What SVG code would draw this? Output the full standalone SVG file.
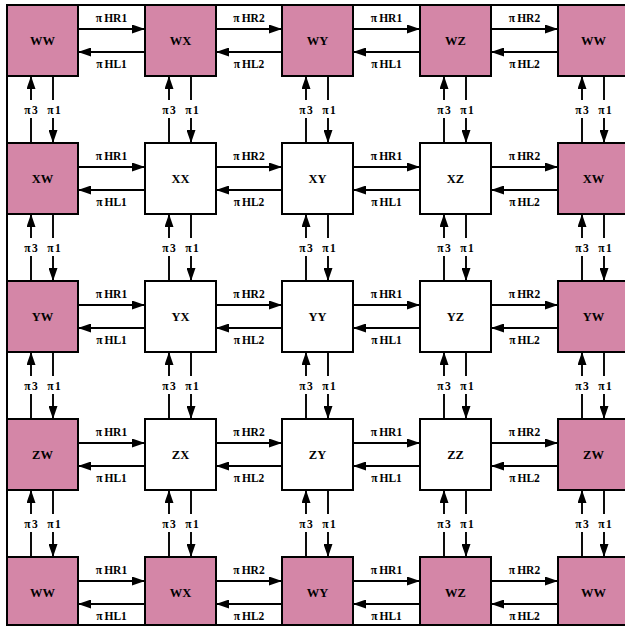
<svg xmlns="http://www.w3.org/2000/svg" width="625" height="628" viewBox="0 0 625 628">
<style>
.node rect{stroke:#000;stroke-width:2}
.pink rect{fill:#d486a7}
.plain rect{fill:#fff}
.node text{font-family:"Liberation Serif",serif;font-weight:bold;font-size:12.5px;text-anchor:middle;fill:#000}
.el{font-family:"Liberation Serif",serif;font-weight:bold;font-size:11.5px;text-anchor:middle;fill:#000}
.ar{stroke:#000;stroke-width:1.9;marker-end:url(#ah)}
.mk{fill:#fff}
.frame{fill:none;stroke:#000;stroke-width:2}
</style>
<defs>
<marker id="ah" viewBox="0 0 13 9" refX="13" refY="4.5" markerWidth="13" markerHeight="9" markerUnits="userSpaceOnUse" orient="auto"><path d="M0,0 L13,4.5 L0,9 z" fill="#000"/></marker>
</defs>
<rect x="0" y="0" width="625" height="628" fill="#fff"/>
<g id="connectors">
<line class="ar" x1="78" y1="29" x2="145" y2="29"/><line class="ar" x1="145" y1="52" x2="78" y2="52"/>
<line class="ar" x1="216" y1="29" x2="282" y2="29"/><line class="ar" x1="282" y1="52" x2="216" y2="52"/>
<line class="ar" x1="353" y1="29" x2="420" y2="29"/><line class="ar" x1="420" y1="52" x2="353" y2="52"/>
<line class="ar" x1="491" y1="29" x2="558" y2="29"/><line class="ar" x1="558" y1="52" x2="491" y2="52"/>
<line class="ar" x1="78" y1="167" x2="145" y2="167"/><line class="ar" x1="145" y1="190" x2="78" y2="190"/>
<line class="ar" x1="216" y1="167" x2="282" y2="167"/><line class="ar" x1="282" y1="190" x2="216" y2="190"/>
<line class="ar" x1="353" y1="167" x2="420" y2="167"/><line class="ar" x1="420" y1="190" x2="353" y2="190"/>
<line class="ar" x1="491" y1="167" x2="558" y2="167"/><line class="ar" x1="558" y1="190" x2="491" y2="190"/>
<line class="ar" x1="78" y1="305" x2="145" y2="305"/><line class="ar" x1="145" y1="328" x2="78" y2="328"/>
<line class="ar" x1="216" y1="305" x2="282" y2="305"/><line class="ar" x1="282" y1="328" x2="216" y2="328"/>
<line class="ar" x1="353" y1="305" x2="420" y2="305"/><line class="ar" x1="420" y1="328" x2="353" y2="328"/>
<line class="ar" x1="491" y1="305" x2="558" y2="305"/><line class="ar" x1="558" y1="328" x2="491" y2="328"/>
<line class="ar" x1="78" y1="443" x2="145" y2="443"/><line class="ar" x1="145" y1="466" x2="78" y2="466"/>
<line class="ar" x1="216" y1="443" x2="282" y2="443"/><line class="ar" x1="282" y1="466" x2="216" y2="466"/>
<line class="ar" x1="353" y1="443" x2="420" y2="443"/><line class="ar" x1="420" y1="466" x2="353" y2="466"/>
<line class="ar" x1="491" y1="443" x2="558" y2="443"/><line class="ar" x1="558" y1="466" x2="491" y2="466"/>
<line class="ar" x1="78" y1="581" x2="145" y2="581"/><line class="ar" x1="145" y1="604" x2="78" y2="604"/>
<line class="ar" x1="216" y1="581" x2="282" y2="581"/><line class="ar" x1="282" y1="604" x2="216" y2="604"/>
<line class="ar" x1="353" y1="581" x2="420" y2="581"/><line class="ar" x1="420" y1="604" x2="353" y2="604"/>
<line class="ar" x1="491" y1="581" x2="558" y2="581"/><line class="ar" x1="558" y1="604" x2="491" y2="604"/>
<line class="ar" x1="31" y1="143" x2="31" y2="76"/><line class="ar" x1="53" y1="76" x2="53" y2="143"/>
<line class="ar" x1="169" y1="143" x2="169" y2="76"/><line class="ar" x1="191" y1="76" x2="191" y2="143"/>
<line class="ar" x1="306" y1="143" x2="306" y2="76"/><line class="ar" x1="328" y1="76" x2="328" y2="143"/>
<line class="ar" x1="444" y1="143" x2="444" y2="76"/><line class="ar" x1="466" y1="76" x2="466" y2="143"/>
<line class="ar" x1="582" y1="143" x2="582" y2="76"/><line class="ar" x1="604" y1="76" x2="604" y2="143"/>
<line class="ar" x1="31" y1="281" x2="31" y2="214"/><line class="ar" x1="53" y1="214" x2="53" y2="281"/>
<line class="ar" x1="169" y1="281" x2="169" y2="214"/><line class="ar" x1="191" y1="214" x2="191" y2="281"/>
<line class="ar" x1="306" y1="281" x2="306" y2="214"/><line class="ar" x1="328" y1="214" x2="328" y2="281"/>
<line class="ar" x1="444" y1="281" x2="444" y2="214"/><line class="ar" x1="466" y1="214" x2="466" y2="281"/>
<line class="ar" x1="582" y1="281" x2="582" y2="214"/><line class="ar" x1="604" y1="214" x2="604" y2="281"/>
<line class="ar" x1="31" y1="419" x2="31" y2="352"/><line class="ar" x1="53" y1="352" x2="53" y2="419"/>
<line class="ar" x1="169" y1="419" x2="169" y2="352"/><line class="ar" x1="191" y1="352" x2="191" y2="419"/>
<line class="ar" x1="306" y1="419" x2="306" y2="352"/><line class="ar" x1="328" y1="352" x2="328" y2="419"/>
<line class="ar" x1="444" y1="419" x2="444" y2="352"/><line class="ar" x1="466" y1="352" x2="466" y2="419"/>
<line class="ar" x1="582" y1="419" x2="582" y2="352"/><line class="ar" x1="604" y1="352" x2="604" y2="419"/>
<line class="ar" x1="31" y1="557" x2="31" y2="490"/><line class="ar" x1="53" y1="490" x2="53" y2="557"/>
<line class="ar" x1="169" y1="557" x2="169" y2="490"/><line class="ar" x1="191" y1="490" x2="191" y2="557"/>
<line class="ar" x1="306" y1="557" x2="306" y2="490"/><line class="ar" x1="328" y1="490" x2="328" y2="557"/>
<line class="ar" x1="444" y1="557" x2="444" y2="490"/><line class="ar" x1="466" y1="490" x2="466" y2="557"/>
<line class="ar" x1="582" y1="557" x2="582" y2="490"/><line class="ar" x1="604" y1="490" x2="604" y2="557"/>
<rect class="mk" x="21" y="100" width="42" height="18"/><rect class="mk" x="159" y="100" width="42" height="18"/><rect class="mk" x="296" y="100" width="42" height="18"/><rect class="mk" x="434" y="100" width="42" height="18"/><rect class="mk" x="572" y="100" width="42" height="18"/>
<rect class="mk" x="21" y="238" width="42" height="18"/><rect class="mk" x="159" y="238" width="42" height="18"/><rect class="mk" x="296" y="238" width="42" height="18"/><rect class="mk" x="434" y="238" width="42" height="18"/><rect class="mk" x="572" y="238" width="42" height="18"/>
<rect class="mk" x="21" y="376" width="42" height="18"/><rect class="mk" x="159" y="376" width="42" height="18"/><rect class="mk" x="296" y="376" width="42" height="18"/><rect class="mk" x="434" y="376" width="42" height="18"/><rect class="mk" x="572" y="376" width="42" height="18"/>
<rect class="mk" x="21" y="514" width="42" height="18"/><rect class="mk" x="159" y="514" width="42" height="18"/><rect class="mk" x="296" y="514" width="42" height="18"/><rect class="mk" x="434" y="514" width="42" height="18"/><rect class="mk" x="572" y="514" width="42" height="18"/>
<g class="el">
<text x="31" y="114">π<tspan dx="1.5">3</tspan></text><text x="54" y="114">π<tspan dx="1.5">1</tspan></text>
<text x="169" y="114">π<tspan dx="1.5">3</tspan></text><text x="192" y="114">π<tspan dx="1.5">1</tspan></text>
<text x="306" y="114">π<tspan dx="1.5">3</tspan></text><text x="329" y="114">π<tspan dx="1.5">1</tspan></text>
<text x="444" y="114">π<tspan dx="1.5">3</tspan></text><text x="467" y="114">π<tspan dx="1.5">1</tspan></text>
<text x="582" y="114">π<tspan dx="1.5">3</tspan></text><text x="605" y="114">π<tspan dx="1.5">1</tspan></text>
<text x="31" y="252">π<tspan dx="1.5">3</tspan></text><text x="54" y="252">π<tspan dx="1.5">1</tspan></text>
<text x="169" y="252">π<tspan dx="1.5">3</tspan></text><text x="192" y="252">π<tspan dx="1.5">1</tspan></text>
<text x="306" y="252">π<tspan dx="1.5">3</tspan></text><text x="329" y="252">π<tspan dx="1.5">1</tspan></text>
<text x="444" y="252">π<tspan dx="1.5">3</tspan></text><text x="467" y="252">π<tspan dx="1.5">1</tspan></text>
<text x="582" y="252">π<tspan dx="1.5">3</tspan></text><text x="605" y="252">π<tspan dx="1.5">1</tspan></text>
<text x="31" y="390">π<tspan dx="1.5">3</tspan></text><text x="54" y="390">π<tspan dx="1.5">1</tspan></text>
<text x="169" y="390">π<tspan dx="1.5">3</tspan></text><text x="192" y="390">π<tspan dx="1.5">1</tspan></text>
<text x="306" y="390">π<tspan dx="1.5">3</tspan></text><text x="329" y="390">π<tspan dx="1.5">1</tspan></text>
<text x="444" y="390">π<tspan dx="1.5">3</tspan></text><text x="467" y="390">π<tspan dx="1.5">1</tspan></text>
<text x="582" y="390">π<tspan dx="1.5">3</tspan></text><text x="605" y="390">π<tspan dx="1.5">1</tspan></text>
<text x="31" y="528">π<tspan dx="1.5">3</tspan></text><text x="54" y="528">π<tspan dx="1.5">1</tspan></text>
<text x="169" y="528">π<tspan dx="1.5">3</tspan></text><text x="192" y="528">π<tspan dx="1.5">1</tspan></text>
<text x="306" y="528">π<tspan dx="1.5">3</tspan></text><text x="329" y="528">π<tspan dx="1.5">1</tspan></text>
<text x="444" y="528">π<tspan dx="1.5">3</tspan></text><text x="467" y="528">π<tspan dx="1.5">1</tspan></text>
<text x="582" y="528">π<tspan dx="1.5">3</tspan></text><text x="605" y="528">π<tspan dx="1.5">1</tspan></text>
<text x="111.5" y="22">π<tspan dx="2">HR1</tspan></text><text x="111.5" y="67.5">π<tspan dx="2">HL1</tspan></text>
<text x="249" y="22">π<tspan dx="2">HR2</tspan></text><text x="249" y="67.5">π<tspan dx="2">HL2</tspan></text>
<text x="386.5" y="22">π<tspan dx="2">HR1</tspan></text><text x="386.5" y="67.5">π<tspan dx="2">HL1</tspan></text>
<text x="524.5" y="22">π<tspan dx="2">HR2</tspan></text><text x="524.5" y="67.5">π<tspan dx="2">HL2</tspan></text>
<text x="111.5" y="160">π<tspan dx="2">HR1</tspan></text><text x="111.5" y="205.5">π<tspan dx="2">HL1</tspan></text>
<text x="249" y="160">π<tspan dx="2">HR2</tspan></text><text x="249" y="205.5">π<tspan dx="2">HL2</tspan></text>
<text x="386.5" y="160">π<tspan dx="2">HR1</tspan></text><text x="386.5" y="205.5">π<tspan dx="2">HL1</tspan></text>
<text x="524.5" y="160">π<tspan dx="2">HR2</tspan></text><text x="524.5" y="205.5">π<tspan dx="2">HL2</tspan></text>
<text x="111.5" y="298">π<tspan dx="2">HR1</tspan></text><text x="111.5" y="343.5">π<tspan dx="2">HL1</tspan></text>
<text x="249" y="298">π<tspan dx="2">HR2</tspan></text><text x="249" y="343.5">π<tspan dx="2">HL2</tspan></text>
<text x="386.5" y="298">π<tspan dx="2">HR1</tspan></text><text x="386.5" y="343.5">π<tspan dx="2">HL1</tspan></text>
<text x="524.5" y="298">π<tspan dx="2">HR2</tspan></text><text x="524.5" y="343.5">π<tspan dx="2">HL2</tspan></text>
<text x="111.5" y="436">π<tspan dx="2">HR1</tspan></text><text x="111.5" y="481.5">π<tspan dx="2">HL1</tspan></text>
<text x="249" y="436">π<tspan dx="2">HR2</tspan></text><text x="249" y="481.5">π<tspan dx="2">HL2</tspan></text>
<text x="386.5" y="436">π<tspan dx="2">HR1</tspan></text><text x="386.5" y="481.5">π<tspan dx="2">HL1</tspan></text>
<text x="524.5" y="436">π<tspan dx="2">HR2</tspan></text><text x="524.5" y="481.5">π<tspan dx="2">HL2</tspan></text>
<text x="111.5" y="574">π<tspan dx="2">HR1</tspan></text><text x="111.5" y="619.5">π<tspan dx="2">HL1</tspan></text>
<text x="249" y="574">π<tspan dx="2">HR2</tspan></text><text x="249" y="619.5">π<tspan dx="2">HL2</tspan></text>
<text x="386.5" y="574">π<tspan dx="2">HR1</tspan></text><text x="386.5" y="619.5">π<tspan dx="2">HL1</tspan></text>
<text x="524.5" y="574">π<tspan dx="2">HR2</tspan></text><text x="524.5" y="619.5">π<tspan dx="2">HL2</tspan></text>
</g>
</g>
<g id="nodes">
<g id="n-r0c0-WW" class="node pink"><rect x="7" y="5" width="71" height="71"/><text x="42.5" y="45">WW</text></g>
<g id="n-r0c1-WX" class="node pink"><rect x="145" y="5" width="71" height="71"/><text x="180.5" y="45">WX</text></g>
<g id="n-r0c2-WY" class="node pink"><rect x="282" y="5" width="71" height="71"/><text x="317.5" y="45">WY</text></g>
<g id="n-r0c3-WZ" class="node pink"><rect x="420" y="5" width="71" height="71"/><text x="455.5" y="45">WZ</text></g>
<g id="n-r0c4-WW" class="node pink"><rect x="558" y="5" width="71" height="71"/><text x="593.5" y="45">WW</text></g>
<g id="n-r1c0-XW" class="node pink"><rect x="7" y="143" width="71" height="71"/><text x="42.5" y="183">XW</text></g>
<g id="n-r1c1-XX" class="node plain"><rect x="145" y="143" width="71" height="71"/><text x="180.5" y="183">XX</text></g>
<g id="n-r1c2-XY" class="node plain"><rect x="282" y="143" width="71" height="71"/><text x="317.5" y="183">XY</text></g>
<g id="n-r1c3-XZ" class="node plain"><rect x="420" y="143" width="71" height="71"/><text x="455.5" y="183">XZ</text></g>
<g id="n-r1c4-XW" class="node pink"><rect x="558" y="143" width="71" height="71"/><text x="593.5" y="183">XW</text></g>
<g id="n-r2c0-YW" class="node pink"><rect x="7" y="281" width="71" height="71"/><text x="42.5" y="321">YW</text></g>
<g id="n-r2c1-YX" class="node plain"><rect x="145" y="281" width="71" height="71"/><text x="180.5" y="321">YX</text></g>
<g id="n-r2c2-YY" class="node plain"><rect x="282" y="281" width="71" height="71"/><text x="317.5" y="321">YY</text></g>
<g id="n-r2c3-YZ" class="node plain"><rect x="420" y="281" width="71" height="71"/><text x="455.5" y="321">YZ</text></g>
<g id="n-r2c4-YW" class="node pink"><rect x="558" y="281" width="71" height="71"/><text x="593.5" y="321">YW</text></g>
<g id="n-r3c0-ZW" class="node pink"><rect x="7" y="419" width="71" height="71"/><text x="42.5" y="459">ZW</text></g>
<g id="n-r3c1-ZX" class="node plain"><rect x="145" y="419" width="71" height="71"/><text x="180.5" y="459">ZX</text></g>
<g id="n-r3c2-ZY" class="node plain"><rect x="282" y="419" width="71" height="71"/><text x="317.5" y="459">ZY</text></g>
<g id="n-r3c3-ZZ" class="node plain"><rect x="420" y="419" width="71" height="71"/><text x="455.5" y="459">ZZ</text></g>
<g id="n-r3c4-ZW" class="node pink"><rect x="558" y="419" width="71" height="71"/><text x="593.5" y="459">ZW</text></g>
<g id="n-r4c0-WW" class="node pink"><rect x="7" y="557" width="71" height="71"/><text x="42.5" y="597">WW</text></g>
<g id="n-r4c1-WX" class="node pink"><rect x="145" y="557" width="71" height="71"/><text x="180.5" y="597">WX</text></g>
<g id="n-r4c2-WY" class="node pink"><rect x="282" y="557" width="71" height="71"/><text x="317.5" y="597">WY</text></g>
<g id="n-r4c3-WZ" class="node pink"><rect x="420" y="557" width="71" height="71"/><text x="455.5" y="597">WZ</text></g>
<g id="n-r4c4-WW" class="node pink"><rect x="558" y="557" width="71" height="71"/><text x="593.5" y="597">WW</text></g>
</g>
<rect x="0" y="626" width="625" height="2" fill="#fff"/>
<path class="frame" d="M640,5 H7 V625 H640"/>
</svg>
